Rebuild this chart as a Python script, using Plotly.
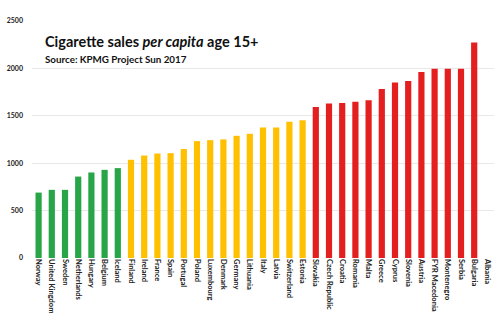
import plotly.graph_objects as go

# Cigarette sales per capita (age 15+), KPMG Project Sun 2017
countries = [
    "Norway", "United Kingdom", "Sweden", "Netherlands", "Hungary", "Belgium",
    "Iceland", "Finland", "Ireland", "France", "Spain", "Portugal", "Poland",
    "Luxembourg", "Denmark", "Germany", "Lithuania", "Italy", "Latvia",
    "Switzerland", "Estonia", "Slovakia", "Czech Republic", "Croatia",
    "Romania", "Malta", "Greece", "Cyprus", "Slovenia", "Austria",
    "FYR Macedonia", "Montenegro", "Serbia", "Bulgaria", "Albania",
]
sales = [
    690, 719, 719, 859, 902, 930,
    948, 1036, 1081, 1102, 1106, 1149, 1233,
    1243, 1251, 1289, 1310, 1377, 1377,
    1436, 1454, 1594, 1630, 1636,
    1647, 1665, 1784, 1851, 1868, 1963,
    1995, 1995, 1995, 2273, None,
]
tiers = ["low"] * 7 + ["mid"] * 14 + ["high"] * 14

tier_colors = {"low": "#27A547", "mid": "#FFC000", "high": "#E3201F"}
y_ticks = [0, 500, 1000, 1500, 2000, 2500]

fig = go.Figure(
    go.Bar(
        x=countries,
        y=sales,
        marker=dict(color=[tier_colors[t] for t in tiers], line=dict(width=0)),
    )
)

W, H = 501, 327
ml, mr, mt, mb = 26, 7, 21, 69
pw, ph = W - ml - mr, H - mt - mb

def px_x(p):
    return (p - ml) / pw

def px_y(p):
    return (H - mb - p) / ph

fig.update_layout(
    width=W,
    height=H,
    margin=dict(l=ml, r=mr, t=mt, b=mb, pad=0),
    paper_bgcolor="white",
    plot_bgcolor="white",
    bargap=0.53,
    showlegend=False,
    font=dict(family="Lato", color="#222222"),
    xaxis=dict(
        type="category",
        range=[-0.5, len(countries) - 0.5],
        tickangle=90,
        tickfont=dict(family="Lato", size=7.5, color="#222222", weight="bold"),
        showgrid=False,
        showline=False,
        ticks="",
        ticklen=0,
    ),
    yaxis=dict(
        range=[0, 2500],
        tickvals=y_ticks,
        ticktext=[str(v) for v in y_ticks],
        tickfont=dict(family="Lato", size=7, color="#222222", weight="bold"),
        showgrid=True,
        gridcolor="#e8e8e8",
        gridwidth=1,
        zeroline=False,
        showline=False,
        ticks="",
        ticklabelstandoff=8,
    ),
    annotations=[
        dict(
            text="<b>Cigarette sales <i>per capita</i> age 15+</b>",
            xref="paper", yref="paper",
            x=px_x(38), y=px_y(51.5),
            xanchor="left", yanchor="bottom",
            borderpad=0,
            showarrow=False,
            font=dict(family="Lato", size=14.5, color="#111111"),
        ),
        dict(
            text="<b>Source: KPMG Project Sun 2017</b>",
            xref="paper", yref="paper",
            x=px_x(38), y=px_y(52),
            xanchor="left", yanchor="top",
            borderpad=0,
            showarrow=False,
            font=dict(family="Lato", size=9.8, color="#111111"),
        ),
    ],
)

fig.write_html("out.html")
